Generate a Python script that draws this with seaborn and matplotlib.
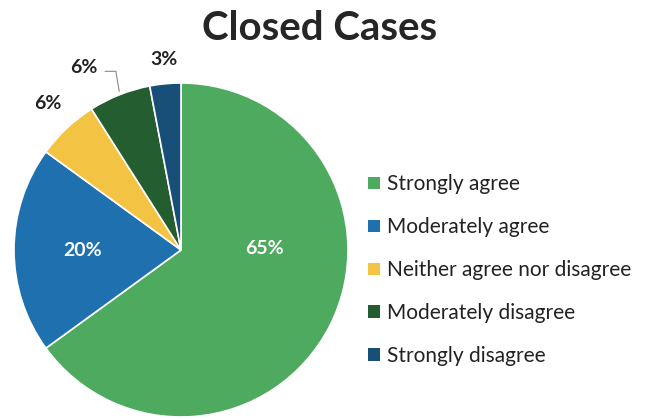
import matplotlib
matplotlib.use("Agg")
import matplotlib.pyplot as plt
from matplotlib.patches import Patch
import seaborn as sns

# Survey responses for closed cases
categories = ["Strongly agree", "Moderately agree", "Neither agree nor disagree",
              "Moderately disagree", "Strongly disagree"]
percentages = [65, 20, 6, 6, 3]
colors = ["#4EAA5E", "#1F70AE", "#F3C443", "#245E30", "#184F78"]

sns.set_theme(style="white")
plt.rcParams["font.family"] = ["Lato", "DejaVu Sans"]

fig = plt.figure(figsize=(6.45, 4.19), dpi=100)
W, H = 645, 419
cx, cy, r = 181, 250, 167
ax = fig.add_axes([(cx - r) / W, (H - cy - r) / H, 2 * r / W, 2 * r / H])

wedges, _ = ax.pie(percentages, colors=colors, startangle=90, counterclock=False,
                   radius=1.0, wedgeprops=dict(edgecolor="white", linewidth=1.2))
ax.set_xlim(-1, 1)
ax.set_ylim(-1, 1)
ax.set_aspect("equal")
ax.axis("off")

# value labels: (x, y, colour) in pie coordinates
label_pos = [(0.50, 0.01, "white"), (-0.59, 0.0, "white"),
             (-0.80, 0.88, "#222222"), (-0.58, 1.09, "#222222"), (-0.10, 1.14, "#222222")]
for p, (x, y, c) in zip(percentages, label_pos):
    ax.text(x, y, f"{p}%", ha="center", va="center", fontsize=14,
            fontweight="bold", color=c, clip_on=False)

# leader line for the moderately-disagree label
ax.plot([-0.455, -0.39, -0.37], [1.07, 1.07, 0.95], color="#888888", lw=0.8,
        clip_on=False)

fig.text(320 / W, 1 - 28 / H, "Closed Cases", ha="center", va="center",
         fontsize=29, fontweight="bold", color="#262626")

handles = [Patch(facecolor=c, edgecolor="none") for c in colors]
fig.legend(handles, categories, loc="upper left",
           bbox_to_anchor=(360 / W, 1 - 166 / H), frameon=False,
           fontsize=15, handlelength=0.55, handleheight=0.55, handletextpad=0.35,
           labelspacing=1.1, borderaxespad=0, labelcolor="#222222")

fig.savefig("out.png", dpi=100, facecolor="white")
